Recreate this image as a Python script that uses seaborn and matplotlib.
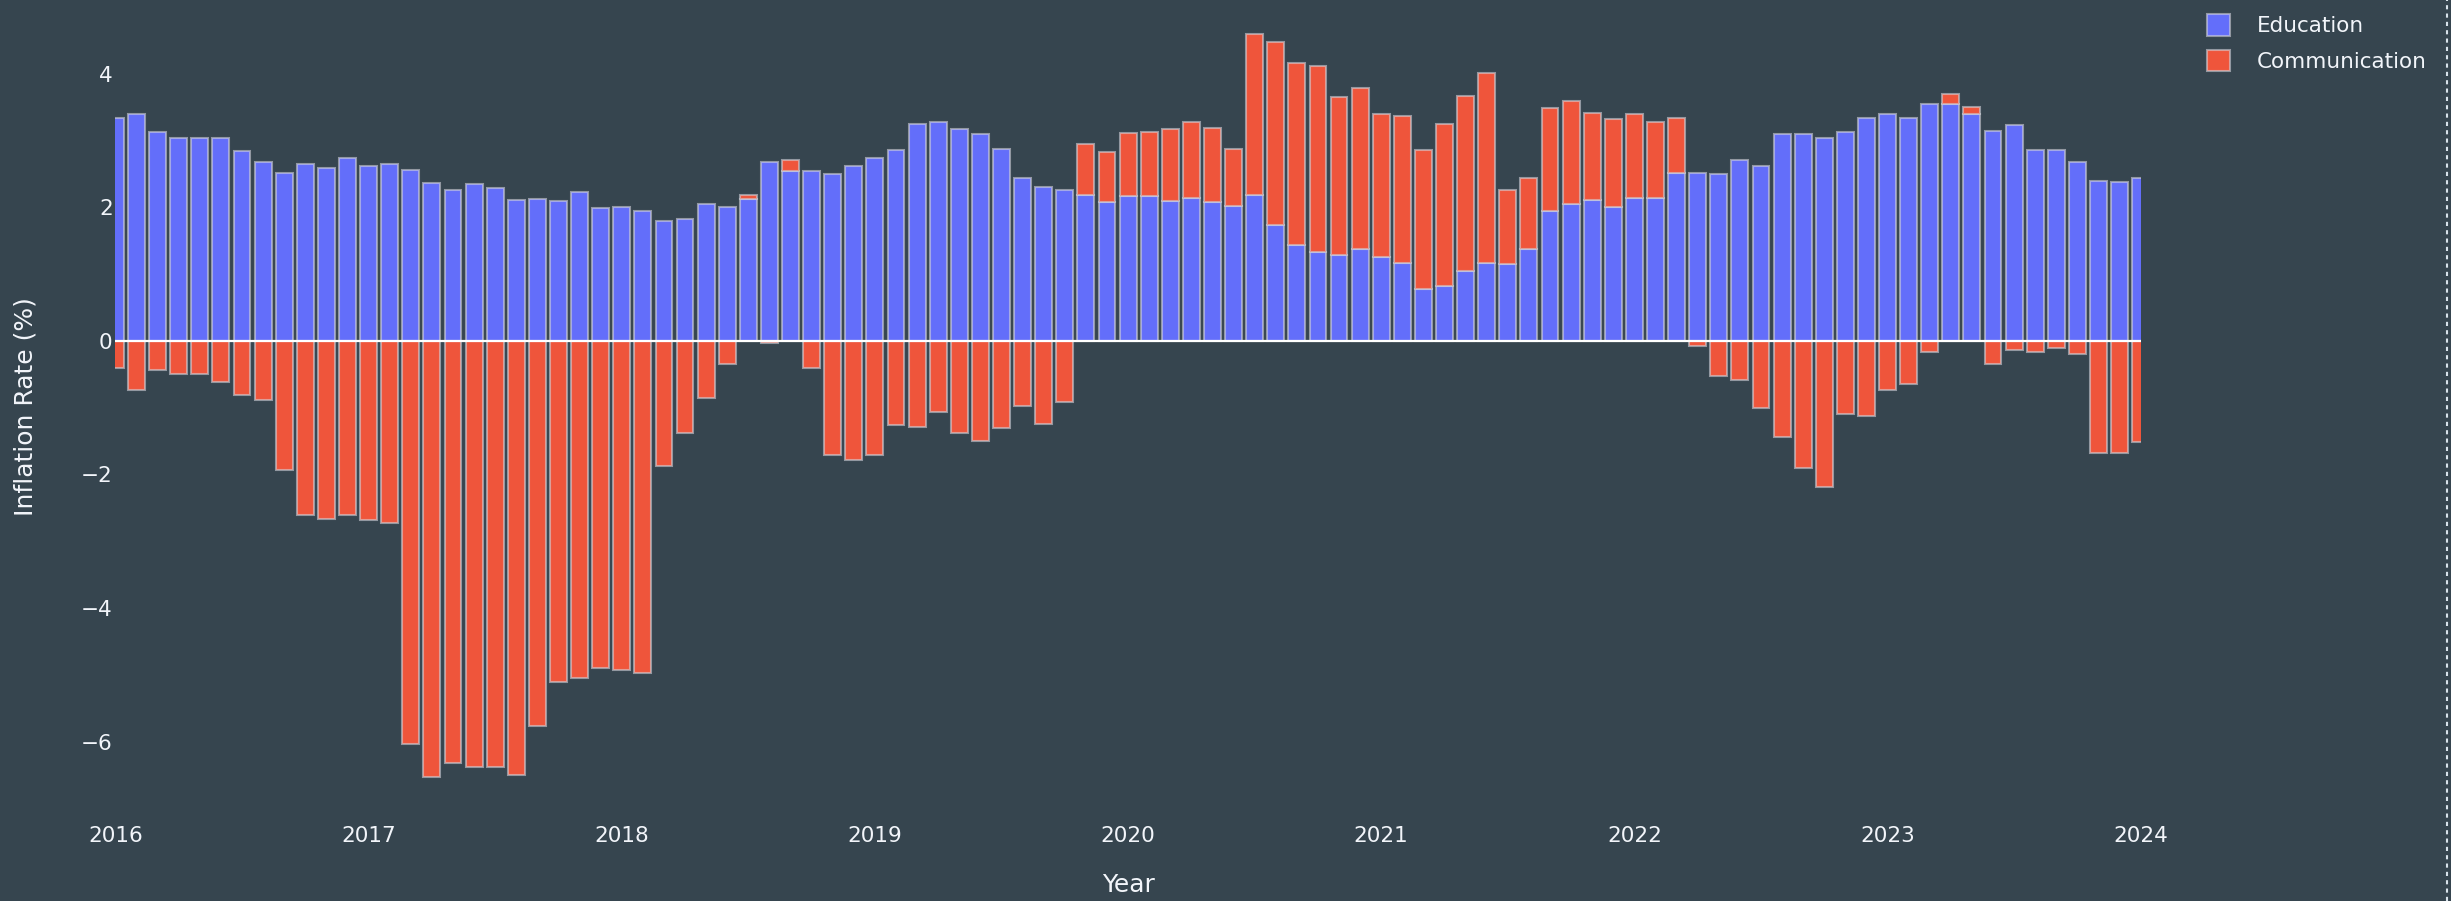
import seaborn as sns
import matplotlib.pyplot as plt
import pandas as pd
import numpy as np
from matplotlib.patches import Patch
from matplotlib.lines import Line2D

# Monthly values, Jan 2016 .. Jan 2024
months = pd.date_range("2016-01-01", "2024-01-01", freq="MS")

education = [
    3.34, 3.40, 3.13, 3.04, 3.03, 3.04, 2.84, 2.68, 2.51, 2.64, 2.58, 2.74,  # 2016
    2.62, 2.64, 2.55, 2.36, 2.25, 2.34, 2.29, 2.10, 2.12, 2.09, 2.22, 1.99,  # 2017
    2.00, 1.95, 1.79, 1.82, 2.05, 2.00, 2.12, 2.68, 2.54, 2.54, 2.49, 2.62,  # 2018
    2.73, 2.86, 3.25, 3.28, 3.17, 3.10, 2.87, 2.44, 2.30, 2.25, 2.18, 2.08,  # 2019
    2.16, 2.17, 2.09, 2.14, 2.08, 2.02, 2.18, 1.73, 1.44, 1.33, 1.29, 1.38,  # 2020
    1.25, 1.17, 0.77, 0.82, 1.04, 1.17, 1.15, 1.37, 1.94, 2.05, 2.10, 2.00,  # 2021
    2.14, 2.13, 2.51, 2.51, 2.50, 2.71, 2.62, 3.10, 3.10, 3.03, 3.13, 3.34,  # 2022
    3.40, 3.34, 3.55, 3.55, 3.39, 3.14, 3.23, 2.86, 2.86, 2.67, 2.39, 2.38,  # 2023
    2.44,                                                                    # 2024
]

communication = [
    -0.41, -0.73, -0.44, -0.50, -0.50, -0.62, -0.81, -0.88, -1.93, -2.61, -2.67, -2.61,
    -2.68, -2.73, -6.03, -6.53, -6.31, -6.37, -6.37, -6.50, -5.76, -5.10, -5.05, -4.90,
    -4.92, -4.97, -1.87, -1.38, -0.85, -0.34, 0.06, -0.04, 0.17, -0.40, -1.71, -1.78,
    -1.71, -1.26, -1.29, -1.07, -1.38, -1.50, -1.31, -0.98, -1.25, -0.92, 0.76, 0.74,
    0.95, 0.96, 1.08, 1.13, 1.11, 0.85, 2.41, 2.74, 2.71, 2.78, 2.36, 2.41,
    2.14, 2.20, 2.08, 2.42, 2.62, 2.84, 1.11, 1.06, 1.55, 1.54, 1.31, 1.32,
    1.25, 1.15, 0.82, -0.08, -0.52, -0.59, -1.00, -1.44, -1.91, -2.18, -1.09, -1.12,
    -0.73, -0.65, -0.17, 0.14, 0.11, -0.34, -0.14, -0.17, -0.10, -0.19, -1.68, -1.68,
    -1.52,
]

year_labels = [str(y) for y in range(2016, 2025)]
y_ticks = [-6, -4, -2, 0, 2, 4]

bg = "#36454f"
blue = "#636efa"
red = "#ef553b"
edge = (0.82, 0.82, 0.85, 0.6)
txt = "#f2f5fa"

sns.set_theme(style="dark")
plt.rcParams["font.family"] = ["DejaVu Sans"]

df = pd.DataFrame({
    "idx": np.arange(len(months)),
    "Education": education,
    "Communication": communication,
})
# relative stacking: positive communication sits on top of education
comm_bottom = np.where(df["Communication"] > 0, df["Education"], 0)

fig = plt.figure(figsize=(24.51, 9.01), dpi=100, facecolor=bg)
ax = fig.add_axes([0.0471, 0.0966, 0.8263, 0.9034])
ax.set_facecolor(bg)

sns.barplot(data=df, x="idx", y="Education", color=blue, saturation=1,
            width=0.8, errorbar=None, edgecolor=edge, linewidth=1.5, ax=ax)
ax.bar(df["idx"], df["Communication"], bottom=comm_bottom, width=0.8,
       color=red, edgecolor=edge, linewidth=1.5)

ax.axhline(0, color="white", lw=1.6, zorder=5)

ax.set_xlim(0, len(months) - 1)
ax.set_ylim(-7.08, 5.10)
ax.set_xticks(range(0, len(months), 12), labels=year_labels)
ax.set_yticks(y_ticks, labels=[f"{t}".replace("-", "\u2212") for t in y_ticks])
ax.tick_params(axis="x", length=0, pad=9, labelsize=15.5, colors=txt)
ax.tick_params(axis="y", length=0, pad=2, labelsize=15.5, colors=txt)
ax.grid(False)
for s in ax.spines.values():
    s.set_visible(False)

ax.set_xlabel("Year", fontsize=18, color=txt)
ax.set_ylabel("Inflation Rate (%)", fontsize=18, color=txt)
ax.xaxis.set_label_coords(0.5, -0.0725)
ax.yaxis.set_label_coords(-0.0383, 0.5)

handles = [Patch(facecolor=blue, edgecolor=edge, linewidth=1.5, label="Education"),
           Patch(facecolor=red, edgecolor=edge, linewidth=1.5, label="Communication")]
fig.legend(handles=handles, loc="upper left", bbox_to_anchor=(0.9005, 0.984),
           frameon=False, fontsize=15.5, handlelength=1.07, handleheight=1.16,
           handletextpad=1.25, labelspacing=0.62, borderpad=0, borderaxespad=0,
           labelcolor=txt)

fig.add_artist(Line2D([0.9984, 0.9984], [0, 1], transform=fig.transFigure,
                      color="#d8e2ea", ls=(0, (2, 2)), lw=1.5))

fig.savefig("out.png", dpi=100, facecolor=bg)
